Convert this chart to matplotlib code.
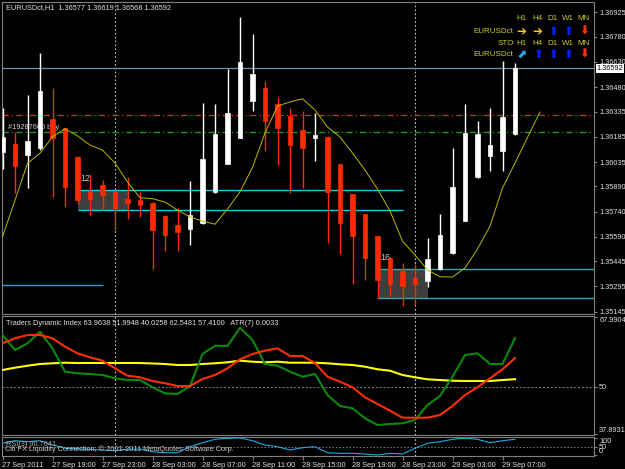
import matplotlib
matplotlib.use('Agg')
import matplotlib.pyplot as plt
import matplotlib.transforms as mtransforms
from matplotlib.patches import Rectangle
import numpy as np

plt.rcParams['font.family'] = ['Liberation Sans', 'DejaVu Sans']

W, H = 625, 469

# EURUSDct H1, 27 Sep 15:00 .. 29 Sep 08:00
opens = [1.36095, 1.36141, 1.36076, 1.36116, 1.36288, 1.36235, 1.36066, 1.35862, 1.35897, 1.35863,
         1.35818, 1.35808, 1.35792, 1.35713, 1.35659, 1.35634, 1.35673, 1.35857, 1.36026, 1.36179,
         1.36399, 1.36476, 1.36379, 1.36310, 1.36225, 1.36175, 1.36185, 1.36022, 1.35844, 1.35725,
         1.35594, 1.35465, 1.35387, 1.35348, 1.35326, 1.35396, 1.35494, 1.35685, 1.35943, 1.36070,
         1.36101, 1.36199]
highs = [1.36357, 1.36214, 1.36433, 1.36684, 1.36473, 1.36239, 1.36068, 1.35963, 1.35927, 1.35867,
         1.35943, 1.35857, 1.35798, 1.35719, 1.35759, 1.35923, 1.36383, 1.36379, 1.36586, 1.36899,
         1.36794, 1.36516, 1.36423, 1.36354, 1.36338, 1.36324, 1.36189, 1.36025, 1.35847, 1.35728,
         1.35597, 1.35469, 1.35435, 1.35431, 1.35586, 1.35725, 1.36116, 1.36379, 1.36278, 1.36354,
         1.36635, 1.36621]
lows = [1.35991, 1.35848, 1.35878, 1.36106, 1.35828, 1.35768, 1.35788, 1.35719, 1.35749, 1.35630,
        1.35699, 1.35709, 1.35396, 1.35506, 1.35506, 1.35540, 1.35665, 1.35851, 1.36022, 1.36175,
        1.36339, 1.36101, 1.36016, 1.35851, 1.35878, 1.36042, 1.35554, 1.35491, 1.35312, 1.35332,
        1.35223, 1.35237, 1.35177, 1.35183, 1.35292, 1.35392, 1.35491, 1.35683, 1.35940, 1.35982,
        1.35982, 1.36196]
closes = [1.36185, 1.36012, 1.36161, 1.36458, 1.36175, 1.35887, 1.35808, 1.35814, 1.35838, 1.35759,
          1.35792, 1.35778, 1.35630, 1.35600, 1.35619, 1.35719, 1.36054, 1.36199, 1.36324, 1.36627,
          1.36558, 1.36280, 1.36239, 1.36139, 1.36119, 1.36195, 1.35857, 1.35673, 1.35596, 1.35465,
          1.35332, 1.35308, 1.35296, 1.35308, 1.35461, 1.35600, 1.35887, 1.36205, 1.36199, 1.36135,
          1.36304, 1.36592]
# moving average, drawn shifted so it runs past the last candle
ma = [1.35591, 1.35808, 1.36027, 1.36087, 1.36185, 1.36233, 1.36190, 1.36136, 1.36106, 1.36029,
      1.35916, 1.35823, 1.35817, 1.35797, 1.35749, 1.35708, 1.35684, 1.35665, 1.35756, 1.35858,
      1.36003, 1.36207, 1.36368, 1.36392, 1.36411, 1.36344, 1.36243, 1.36184, 1.36088, 1.35987,
      1.35874, 1.35744, 1.35565, 1.35482, 1.35393, 1.35353, 1.35351, 1.35405, 1.35518, 1.35654,
      1.35880, 1.36029, 1.36181, 1.36332]

# Traders Dynamic Index
tdi_price = [63.36, 59.50, 61.22, 64.21, 59.94, 53.92, 53.51, 53.33, 53.07, 52.22,
             51.78, 51.78, 49.91, 48.36, 48.18, 50.24, 58.47, 60.61, 60.53, 65.24,
             62.07, 55.90, 55.46, 53.92, 52.63, 53.33, 47.93, 45.10, 44.51, 41.93,
             40.21, 40.47, 40.65, 41.50, 45.35, 47.67, 52.63, 58.21, 58.65, 55.90,
             55.90, 62.55]
tdi_signal = [61.22, 62.51, 63.36, 63.36, 62.51, 60.35, 58.65, 57.62, 56.75, 54.79,
              52.89, 52.48, 51.53, 50.94, 50.24, 50.24, 52.04, 53.07, 54.79, 57.11,
              58.47, 59.32, 59.94, 57.96, 57.96, 56.16, 52.63, 51.35, 49.91, 47.33,
              45.61, 43.89, 42.09, 42.09, 42.09, 42.78, 45.10, 47.93, 49.91, 52.22,
              54.54, 57.41]
tdi_base = [54.36, 54.95, 55.46, 55.90, 56.08, 56.23, 56.16, 56.16, 56.16, 56.16,
            56.16, 56.16, 56.03, 55.90, 55.64, 55.64, 55.90, 56.08, 56.34, 56.75,
            56.49, 56.34, 56.49, 56.23, 56.23, 56.23, 56.08, 55.82, 55.64, 55.21,
            54.54, 54.18, 53.07, 52.48, 51.96, 51.78, 51.60, 51.53, 51.53, 51.53,
            51.78, 51.99]
tdi_min, tdi_max = 37.8931, 67.9904

rsi3 = [68.2, 82.7, 77.1, 82.7, 58.7, 40.2, 36.3, 34.6, 30.7, 26.8,
        34.6, 36.3, 21.2, 15.6, 15.6, 49.2, 71.5, 90.5, 96.1, 98.0,
        82.7, 58.7, 49.2, 30.7, 43.6, 49.2, 15.6, 12.3, 12.3, 8.4,
        2.8, 12.3, 8.4, 40.2, 68.2, 77.1, 90.5, 97.0, 90.5, 71.5,
        82.7, 90.76]

price_ticks = [1.36925, 1.36780, 1.36630, 1.36480, 1.36335, 1.36185, 1.36035,
               1.35890, 1.35740, 1.35590, 1.35445, 1.35295, 1.35145]
time_labels = ['27 Sep 2011', '27 Sep 19:00', '27 Sep 23:00', '28 Sep 03:00',
               '28 Sep 07:00', '28 Sep 11:00', '28 Sep 15:00', '28 Sep 19:00',
               '28 Sep 23:00', '29 Sep 03:00', '29 Sep 07:00']
day_starts = [9, 33]

last_price = 1.36592
order_open = 1.36317   # red dash-dot
order_level = 1.36216  # green dash-dot
zone_a = (1.35866, 1.35747, 6, 10, 32, '12')
zone_b = (1.35396, 1.35229, 30, 34, 48, '16')
old_level = (1.35301, -1, 8)

BG = 'black'
FG = '#e0e0e0'
GRID = '#808080'
BULL = 'white'
BEAR = '#ff2a00'
XLIM = (-0.04, 47.32)
FS = 5.3


def frac(x0, y0, x1, y1):
    return [x0 / W, 1 - y1 / H, (x1 - x0) / W, (y1 - y0) / H]


def style(a):
    a.set_facecolor(BG)
    for s in a.spines.values():
        s.set_color(GRID)
        s.set_linewidth(0.8)
    a.set_xlim(*XLIM)
    a.yaxis.tick_right()
    a.tick_params(axis='y', color=GRID, labelcolor=FG, labelsize=FS, length=2.5, pad=1.2)
    a.tick_params(axis='x', bottom=False, labelbottom=False)
    for d in day_starts:
        a.axvline(d, color='#c8c8c8', lw=0.8, ls=(0, (1.5, 2)), zorder=1)


fig = plt.figure(figsize=(W / 100, H / 100), dpi=100, facecolor=BG)
ax = fig.add_axes(frac(2, 2, 594, 314))
ax2 = fig.add_axes(frac(2, 316, 594, 435))
ax3 = fig.add_axes(frac(2, 436.5, 594, 456))
for a in (ax, ax2, ax3):
    style(a)

# ---- main price chart
ax.set_ylim(1.351314, 1.369862)
ax.set_yticks(price_ticks)
ax.set_yticklabels(['%.5f' % p for p in price_ticks])

ax.axhline(last_price, color='#7890a8', lw=0.9, zorder=2)
ax.axhline(order_open, color='#ff2000', lw=0.9, ls=(0, (5, 2.5, 1, 2.5)), zorder=2)
ax.axhline(order_level, color='#20a020', lw=0.9, ls=(0, (5, 2.5, 1, 2.5)), zorder=2)
ax.text(8 / W, 1 - 127 / H, '#19287660 buy', transform=fig.transFigure, color='#d0d0d0',
        fontsize=FS, va='center', zorder=1)

for top, bot, x0, x1, xend, lab in (zone_a, zone_b):
    ax.add_patch(Rectangle((x0, bot), x1 - x0, top - bot, facecolor='#3e3e3e',
                           edgecolor='none', zorder=1))
    c = '#10c8f0' if lab == '12' else '#30a8b0'
    ax.hlines([top, bot], x0, xend, colors=c, lw=1, zorder=2)
    ax.text(x0 + 0.2, top + 0.00045, lab, color='#c8c8c8', fontsize=6.5, va='bottom', zorder=2)
ax.hlines(old_level[0], old_level[1], old_level[2], colors='#1fa8e0', lw=1, zorder=2)

x = np.arange(len(opens))
o = np.array(opens)
c = np.array(closes)
cols = np.where(c >= o, BULL, BEAR)
ax.vlines(x, lows, highs, colors=cols, lw=1, zorder=3)
ax.bar(x, np.abs(c - o), bottom=np.minimum(o, c), width=0.34, color=cols,
       edgecolor=cols, lw=0.5, zorder=4)

ax.plot(np.arange(len(ma)), ma, color='#b8b800', lw=0.7, zorder=5)

ax.text(1.004, last_price, '%.5f' % last_price, color='black', fontsize=FS, va='center',
        ha='left', transform=mtransforms.blended_transform_factory(ax.transAxes, ax.transData),
        bbox=dict(facecolor='white', edgecolor='none', pad=0.6), clip_on=False, zorder=10)

fig.text(6 / W, 1 - 8 / H, 'EURUSDct,H1  1.36577 1.36619 1.36568 1.36592', color=FG,
         fontsize=FS, va='center')

# trend panel, top right
legend_cols = [521.7, 537.7, 552.7, 568.3, 584]
tf = ['H1', 'H4', 'D1', 'W1', 'MN']
TXT = '#cccc33'
row1 = [('➔', '#ffcc00'), ('➔', '#ffcc00'), ('⬆', '#0020ff'), ('⬆', '#0020ff'), ('⬇', '#ff3000')]
row2 = [('⬈', '#20a8f0'), ('⬆', '#0020ff'), ('⬆', '#0020ff'), ('⬆', '#0020ff'), ('⬇', '#ff3000')]
for yy, head in ((19, None), (43.3, 'STO')):
    for xx, t in zip(legend_cols, tf):
        fig.text(xx / W, 1 - yy / H, t, color=TXT, fontsize=5.8, ha='center', va='center')
    if head:
        fig.text(514 / W, 1 - yy / H, head, color=TXT, fontsize=5.8, ha='right', va='center')
for yy, row in ((31.7, row1), (54.3, row2)):
    fig.text(513 / W, 1 - yy / H, 'EURUSDct', color=TXT, fontsize=5.8, ha='right', va='center')
    for xx, (g, col) in zip(legend_cols, row):
        fig.text(xx / W, 1 - yy / H, g, color=col, fontsize=8.5, ha='center', va='center',
                 family='DejaVu Sans', weight='bold')

# ---- TDI panel
ax2.set_ylim(37.636, 68.248)
ax2.axhline(50, color=GRID, lw=0.7, ls=(0, (2, 2)), zorder=1)
bx = np.arange(len(tdi_price))
ax2.plot(bx, tdi_base, color='#ffff00', lw=1.5, zorder=3)
ax2.plot(bx, tdi_price, color='#0a8a0a', lw=1.5, zorder=4)
ax2.plot(bx, tdi_signal, color='#ff3000', lw=1.5, zorder=5)
ax2.set_yticks([tdi_min, 50, tdi_max])
ax2.set_yticklabels(['%.4f' % tdi_min, '50', '%.4f' % tdi_max])
lbls = ax2.get_yticklabels()
lbls[0].set_va('bottom')
lbls[2].set_va('top')
fig.text(6 / W, 1 - 323 / H,
         'Traders Dynamic Index 63.9638 51.9948 40.0258 62.5481 57.4100   ATR(7) 0.0033',
         color=FG, fontsize=FS, va='center')

# ---- RSI panel
ax3.set_ylim(-2.8, 106.2)
ax3.axhline(50, color=GRID, lw=0.7, ls=(0, (1.5, 2)), zorder=1)
ax3.plot(bx, rsi3, color='#20a8e0', lw=0.8, zorder=3)
ax3.set_yticks([0, 50, 100])
ax3.set_yticklabels(['0', '50', '100'])
lbls = ax3.get_yticklabels()
lbls[0].set_va('bottom')
lbls[2].set_va('top')
fig.text(6 / W, 1 - 444 / H, 'RSI(3) 90.7641', color='#b0b0b0', fontsize=FS, va='center')
fig.text(5 / W, 1 - 449 / H, 'Citi FX Liquidity Connection, © 2001-2011 MetaQuotes Software Corp.',
         color='#c8c8c8', fontsize=FS, va='center')

ax3.set_xticks(np.arange(0, 4 * len(time_labels), 4))
ax3.set_xticklabels(time_labels)
ax3.tick_params(axis='x', bottom=True, labelbottom=True, color=GRID, labelcolor=FG,
                labelsize=FS, length=3, pad=1)
for t in ax3.get_xticklabels():
    t.set_ha('left')

fig.savefig('out.png', dpi=100, facecolor=BG)
